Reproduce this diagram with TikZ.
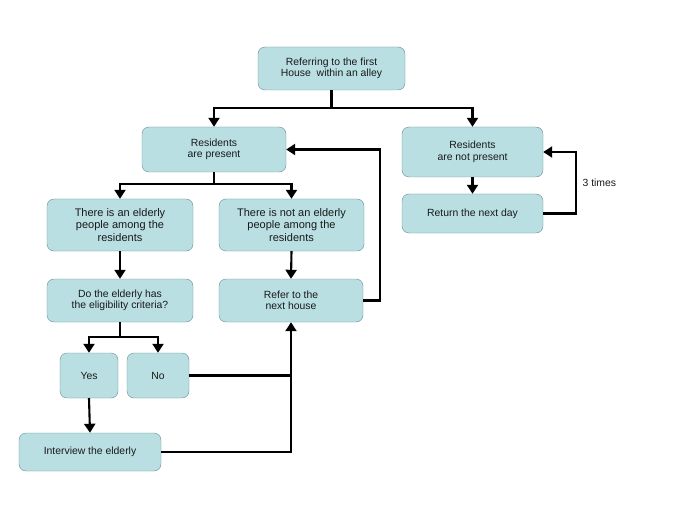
\documentclass[tikz,border=0pt]{standalone}
\usepackage{fontspec}
\setmainfont{Liberation Sans}
\usepackage{tikz}
\usetikzlibrary{calc, arrows.meta}
\definecolor{boxfill}{HTML}{B9DFE3}
\definecolor{boxline}{HTML}{6A8C91}
\begin{document}
\begin{tikzpicture}[x=1pt, y=-1pt,
    box/.style={draw=boxline, fill=boxfill, rounded corners=7pt, align=center,
        font=\fontsize{10.4}{11.5}\selectfont, text=black!90, inner sep=2pt},
    bigbox/.style={box, font=\fontsize{11}{12.5}\selectfont},
    arr/.style={line width=2.1pt, -{Triangle[width=11pt,length=9pt]}},
    plain/.style={line width=2.1pt}]
    \useasboundingbox (0,0) rectangle (685,513);
    \node[box, minimum width=147pt, minimum height=43pt] (first) at (331.5,68.5)
        {Referring to the first\\House\ \ within an alley};
    \node[box, minimum width=144pt, minimum height=45pt] (present) at (214,149.5)
        {Residents\\are present};
    \node[box, minimum width=141pt, minimum height=50pt] (absent) at (472.5,152)
        {Residents\\are not present};
    \node[box, minimum width=141pt, minimum height=39pt] (nextday) at (472.5,213.5)
        {Return the next day};
    \node[bigbox, minimum width=146pt, minimum height=52pt] (elderly) at (120,225)
        {There is an elderly\\people among the\\residents};
    \node[bigbox, minimum width=145pt, minimum height=52pt] (noelderly) at (291.5,225)
        {There is not an elderly\\people among the\\residents};
    \node[box, minimum width=146pt, minimum height=43pt] (criteria) at (120,300.5)
        {Do the elderly has\\the eligibility criteria?};
    \node[box, minimum width=144pt, minimum height=43pt] (refer) at (291,300.5)
        {Refer to the\\next house};
    \node[box, minimum width=58pt, minimum height=45pt] (yes) at (89,375.5) {Yes};
    \node[box, minimum width=62pt, minimum height=45pt] (no) at (158,375.5) {No};
    \node[box, minimum width=142pt, minimum height=38pt] (interview) at (90,452)
        {Interview the elderly};

    \coordinate (split1) at (331.5,108);
    \coordinate (split2) at (214,184);
    \coordinate (split3) at (120,337);
    \coordinate (meet) at (refer.south |- no.east);

    \draw[plain] (first.south) -- (split1);
    \draw[arr] (split1) -| (present.north);
    \draw[arr] (split1) -| (absent.north);
    \draw[arr] (absent.south) -- (nextday.north);
    \draw[arr] (nextday.east) -- ++(33,0) |- node[pos=0.25, right=2pt, font=\fontsize{10.4}{12}\selectfont, text=black!90]{3 times} (absent.east);

    \draw[plain] (present.south) -- (split2);
    \draw[arr] (split2) -| (elderly.north);
    \draw[arr] (split2) -| (noelderly.north);
    \draw[arr] (elderly.south) -- (criteria.north);
    \draw[arr] (noelderly.south) -- (refer.north);
    \draw[arr] (refer.east) -- ++(17,0) |- (present.east);

    \draw[plain] (criteria.south) -- (split3);
    \draw[arr] (split3) -| (yes.north);
    \draw[arr] (split3) -| (no.north);
    \draw[arr] (yes.south) -- (interview.north);
    \draw[plain] (no.east) -- (meet);
    \draw[arr] (interview.east) -| (refer.south);
\end{tikzpicture}
\end{document}
